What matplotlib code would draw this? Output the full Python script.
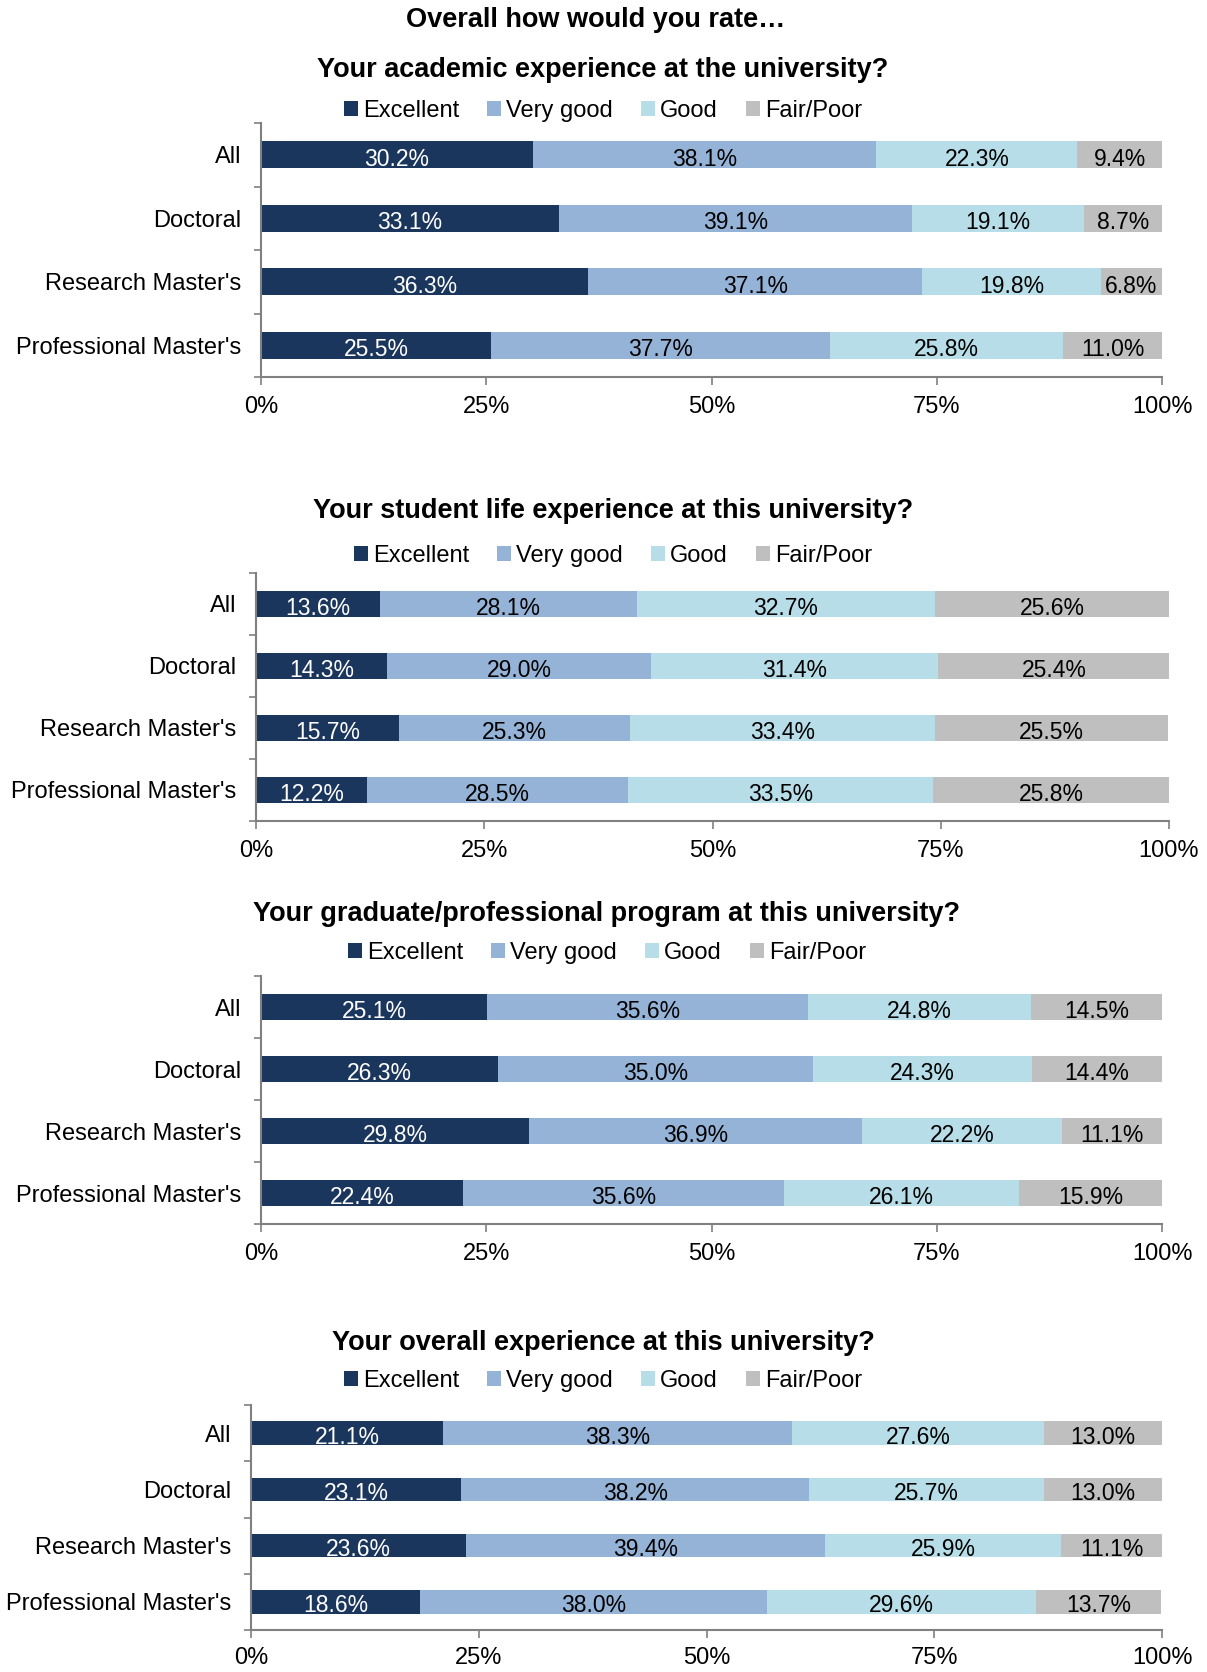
import matplotlib.pyplot as plt
from matplotlib.patches import Patch

plt.rcParams['font.family'] = ['Liberation Sans', 'DejaVu Sans']

groups = ["All", "Doctoral", "Research Master's", "Professional Master's"]
ratings = ["Excellent", "Very good", "Good", "Fair/Poor"]
colors = ["#1B365D", "#95B3D7", "#B7DEE8", "#BFBFBF"]
text_colors = ["white", "black", "black", "black"]

# percentages per group, in the order of ratings
academic = [
    [30.2, 38.1, 22.3, 9.4],
    [33.1, 39.1, 19.1, 8.7],
    [36.3, 37.1, 19.8, 6.8],
    [25.5, 37.7, 25.8, 11.0],
]
student_life = [
    [13.6, 28.1, 32.7, 25.6],
    [14.3, 29.0, 31.4, 25.4],
    [15.7, 25.3, 33.4, 25.5],
    [12.2, 28.5, 33.5, 25.8],
]
program = [
    [25.1, 35.6, 24.8, 14.5],
    [26.3, 35.0, 24.3, 14.4],
    [29.8, 36.9, 22.2, 11.1],
    [22.4, 35.6, 26.1, 15.9],
]
overall = [
    [21.1, 38.3, 27.6, 13.0],
    [23.1, 38.2, 25.7, 13.0],
    [23.6, 39.4, 25.9, 11.1],
    [18.6, 38.0, 29.6, 13.7],
]

W, H = 1207, 1672
fig = plt.figure(figsize=(W / 100, H / 100), dpi=100)


def px_axes(left, right, top, bottom):
    return fig.add_axes([left / W, 1 - bottom / H, (right - left) / W, (bottom - top) / H])


def draw_panel(data, title, box, title_y, legend_y, center_x, xpad=8):
    ax = px_axes(*box)
    for i, row in enumerate(data):
        start = 0.0
        for j, v in enumerate(row):
            ax.barh(i, v, left=start, height=0.42, color=colors[j], edgecolor='none')
            ax.text(start + v / 2, i + 0.07, f"{v:.1f}%", ha='center', va='center',
                    fontsize=16.5, color=text_colors[j])
            start += v
    ax.set_xlim(0, 100)
    ax.set_ylim(3.5, -0.5)
    ax.set_yticks(range(len(groups)))
    ax.set_yticklabels(groups, fontsize=17)
    ax.set_yticks([-0.5, 0.5, 1.5, 2.5, 3.5], minor=True)
    ax.tick_params(axis='y', which='major', length=0, pad=14)
    ax.tick_params(axis='y', which='minor', length=5, color='#808080', width=1.2)
    ax.set_xticks([0, 25, 50, 75, 100])
    ax.set_xticklabels(["0%", "25%", "50%", "75%", "100%"], fontsize=17)
    ax.tick_params(axis='x', length=6, color='#808080', width=1.2, pad=xpad)
    for s in ['top', 'right']:
        ax.spines[s].set_visible(False)
    for s in ['left', 'bottom']:
        ax.spines[s].set_color('#808080')
        ax.spines[s].set_linewidth(1.5)
    fig.text(center_x / W, 1 - title_y / H, title, ha='center', va='center',
             fontsize=19.5, fontweight='bold')
    handles = [Patch(facecolor=c, edgecolor='none') for c in colors]
    fig.legend(handles, ratings, loc='center', bbox_to_anchor=(center_x / W, 1 - legend_y / H),
               ncol=4, frameon=False, fontsize=17, handlelength=0.6, handleheight=0.6,
               handletextpad=0.2, columnspacing=1.2)
    return ax


fig.text(596 / W, 1 - 20 / H, "Overall how would you rate…", ha='center', va='center',
         fontsize=19.5, fontweight='bold')

draw_panel(academic, "Your academic experience at the university?",
           (261, 1162, 123, 377), 70, 111, 603)
draw_panel(student_life, "Your student life experience at this university?",
           (256, 1169, 573, 821), 511, 556, 613)
draw_panel(program, "Your graduate/professional program at this university?",
           (261, 1162, 976, 1224), 914, 953, 607)
draw_panel(overall, "Your overall experience at this university?",
           (251, 1162, 1405, 1630), 1343, 1381, 603, xpad=6)

fig.savefig("out.png", dpi=100)
